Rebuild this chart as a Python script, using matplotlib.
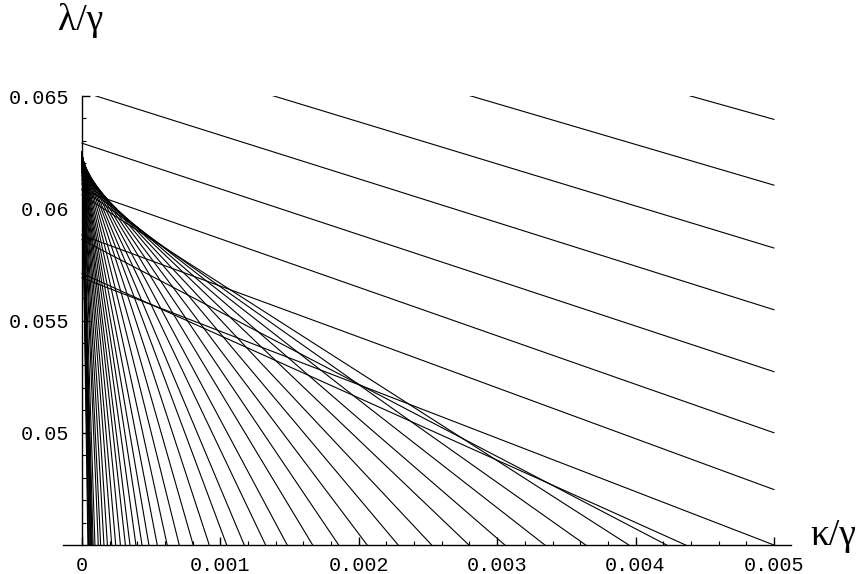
import matplotlib.pyplot as plt
import numpy as np

# upper family: lambda at kappa=0 and at kappa=0.005
upper_lam0 = [0.0726, 0.0701, 0.0676, 0.0652, 0.0629, 0.0608, 0.0588, 0.0569]
upper_lam_end = [0.06396, 0.06103, 0.05823, 0.05548, 0.05272, 0.0500, 0.04747, 0.0450]

# fan + crossing lines: lambda at kappa=0 and kappa where the line reaches lambda=0.045
fan_lam0 = [0.062498, 0.062498, 0.062498, 0.062497, 0.062497, 0.062496, 0.062496,
            0.062495, 0.062494, 0.062492, 0.06249, 0.062487, 0.062484, 0.06248,
            0.062475, 0.06247, 0.062464, 0.062458, 0.06245, 0.062442, 0.06243,
            0.062418, 0.0624, 0.06238, 0.06235, 0.06232, 0.06228, 0.06223,
            0.06218, 0.06212, 0.06204, 0.06196, 0.06186, 0.06175, 0.06161,
            0.06145, 0.06128, 0.06109, 0.06086, 0.0606,
            0.0586, 0.0571]
fan_kap_bottom = [0.000043, 0.000048, 0.000053, 0.000059, 0.000064, 0.000069, 0.000074,
                  0.000081, 0.000094, 0.000118, 0.000135, 0.000159, 0.000184, 0.000215,
                  0.000244, 0.000278, 0.000314, 0.000347, 0.000390, 0.000434, 0.000484,
                  0.000544, 0.000616, 0.000703, 0.000804, 0.000920, 0.001046, 0.001173,
                  0.001327, 0.001483, 0.001667, 0.001855, 0.002061, 0.002285, 0.002527,
                  0.002796, 0.003056, 0.003345, 0.003640, 0.003952,
                  0.004225, 0.004362]

x_ticks = [0, 0.001, 0.002, 0.003, 0.004, 0.005]
x_labels = ['0', '0.001', '0.002', '0.003', '0.004', '0.005']
y_ticks = [0.05, 0.055, 0.06, 0.065]
y_labels = ['0.05', '0.055', '0.06', '0.065']

LAM_BOT = 0.045
K_MAX = 0.005

fig = plt.figure(figsize=(8.64, 5.74), dpi=100)
ax = fig.add_axes([0.0729, 0.0505, 0.8421, 0.7822])
ax.set_xlim(-0.000137, 0.00512)
ax.set_ylim(0.045, 0.065)

for a, e in zip(upper_lam0, upper_lam_end):
    ax.plot([0, K_MAX], [a, e], color='black', lw=0.8)
for a, kb in zip(fan_lam0, fan_kap_bottom):
    ax.plot([0, kb], [a, LAM_BOT], color='black', lw=0.8)

for s in ['top', 'right']:
    ax.spines[s].set_visible(False)
ax.spines['left'].set_position(('data', 0))
ax.spines['left'].set_linewidth(1.0)
ax.spines['bottom'].set_linewidth(1.0)

mono = 'Liberation Mono'
ax.set_xticks(x_ticks)
ax.set_xticklabels(x_labels, fontfamily=mono, fontsize=14.5)
ax.set_yticks(y_ticks)
ax.set_yticklabels(y_labels, fontfamily=mono, fontsize=14.5)
ax.set_xticks(np.arange(0, 0.00501, 0.0002), minor=True)
ax.set_yticks(np.arange(0.045, 0.0651, 0.001), minor=True)
ax.tick_params(which='major', direction='in', length=6, width=1, pad=8)
ax.tick_params(which='minor', direction='in', length=3, width=0.8)
ax.tick_params(axis='y', pad=9)

fig.text(810 / 864, 1 - 545 / 574, 'κ/γ', fontfamily='Liberation Serif',
         fontsize=27, ha='left', va='baseline')
fig.text(81 / 864, 1 - 30 / 574, 'λ/γ', fontfamily='Liberation Serif',
         fontsize=27, ha='center', va='baseline')

fig.savefig('out.png', dpi=100)
